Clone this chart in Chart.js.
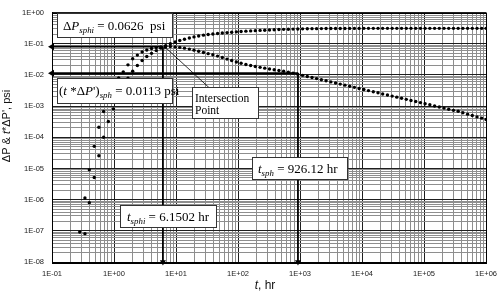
<!DOCTYPE html>
<html>
<head>
<meta charset="utf-8">
<script src="https://cdn.jsdelivr.net/npm/chart.js@4.4.1/dist/chart.umd.min.js"></script>
<style>
  html, body { margin: 0; padding: 0; background: #fff; }
  #wrap { width: 504px; height: 296px; position: relative; }
</style>
</head>
<body>
<div id="wrap"><canvas id="chart_pressureDerivative"></canvas></div>
<script>
// time, hr
const times = [0.28,0.34,0.40,0.48,0.57,0.68,0.81,0.98,1.19,1.41,1.68,2.0,2.38,2.84,3.38,4.03,4.8,5.7,6.8,8.1,
  9.7,11.5,13.7,16.4,19.5,23.2,27.7,33,39.3,46.8,55.8,66.5,79,94,112,134,160,190,227,270,
  322,383,457,544,648,772,920,1100,1310,1560,1850,2210,2630,3140,3740,4450,5300,6320,7530,8970,
  10700,12700,15200,18100,21500,25700,30600,36400,43400,51700,61600,73400,87400,104000,124000,148000,176000,210000,250000,298000,
  355000,423000,504000,600000,715000,852000,1000000];

// pressure derivative t*dP', psi
const derivative = [9.2e-8,1.13e-6,9.0e-6,5.1e-5,2.1e-4,6.7e-4,1.9e-3,4.2e-3,8.0e-3,0.0125,0.021,0.033,0.043,0.054,0.063,0.070,0.075,0.079,0.081,0.0815,
  0.079,0.076,0.072,0.067,0.062,0.057,0.052,0.048,0.044,0.040,0.036,0.032,0.029,0.026,0.0235,0.0215,0.0200,0.0186,0.0174,0.0164,
  0.0155,0.0146,0.0138,0.0130,0.0122,0.0114,0.0105,0.00966,0.00891,0.00822,0.00759,0.00700,0.00646,0.00596,0.00550,0.00507,0.00468,0.00432,0.00398,0.00367,
  0.00339,0.00313,0.00288,0.00266,0.00245,0.00226,0.00209,0.00193,0.00178,0.00164,0.00151,0.00140,0.00129,0.00119,0.00110,0.00101,0.00093,0.00086,0.00079,0.00073,
  0.00068,0.00061,0.00055,0.00050,0.00045,0.00041,0.00037];

// pressure drop dP, psi
const pressure = [null,8.1e-8,8.0e-7,5.1e-6,2.55e-5,1.0e-4,3.2e-4,8.1e-4,2.0e-3,4.2e-3,7.8e-3,0.013,0.020,0.029,0.039,0.049,0.060,0.072,0.086,0.099,
  0.113,0.126,0.139,0.152,0.165,0.177,0.188,0.197,0.205,0.213,0.220,0.227,0.233,0.240,0.246,0.252,0.257,0.262,0.267,0.271,
  0.276,0.280,0.284,0.288,0.291,0.294,0.297,0.299,0.301,0.303,0.304,0.305,0.306,0.307,0.308,0.308,0.308,0.309,0.309,0.309,
  0.31,0.31,0.31,0.31,0.31,0.31,0.31,0.31,0.31,0.31,0.31,0.31,0.31,0.31,0.31,0.31,0.31,0.31,0.31,0.31,
  0.31,0.31,0.31,0.31,0.31,0.31,0.31];

// marker lines: intersection and spherical flow reading
const arrowTimes = [6.1502, 926.12];
const arrowLevels = [0.08, 0.0113];

const xDecades = [-1,0,1,2,3,4,5,6];
const xTickLabels = ['1E-01','1E+00','1E+01','1E+02','1E+03','1E+04','1E+05','1E+06'];
const yDecades = [-8,-7,-6,-5,-4,-3,-2,-1,0];
const yTickLabels = ['1E-08','1E-07','1E-06','1E-05','1E-04','1E-03','1E-02','1E-01','1E+00'];

function toPoints(ys) {
  const out = [];
  ys.forEach((v, i) => { if (v !== null) out.push({x: times[i], y: v}); });
  return out;
}

function logTicks(decades) {
  return (scale) => {
    const t = [];
    decades.forEach((e, i) => {
      t.push({value: Math.pow(10, e), major: true});
      if (i < decades.length - 1) {
        for (let m = 2; m <= 9; m++) t.push({value: m * Math.pow(10, e), major: false});
      }
    });
    scale.ticks = t;
  };
}

function tickLabel(decades, labels) {
  return (value, index, ticks) => {
    if (!ticks[index].major) return '';
    return labels[decades.indexOf(Math.round(Math.log10(value)))];
  };
}

function arrowLine(a, b, tipRotation, width, tipSize) {
  return {
    type: 'line',
    data: [a, b],
    borderColor: '#000',
    borderWidth: width,
    pointStyle: 'triangle',
    pointRadius: [tipSize, 0],
    pointRotation: [tipRotation, 0],
    pointBackgroundColor: '#000',
    pointBorderColor: '#000',
    pointBorderWidth: 0,
    showLine: true,
    clip: false
  };
}

const gridColor = (c) => (c.tick && c.tick.major) ? '#1e1e1e' : '#8e8e8e';

// mixed-style text helper
function drawRich(ctx, x, y, parts, size, family) {
  let cx = x;
  parts.forEach(([txt, st]) => {
    const sub = st === 's';
    const fs = sub ? size * 0.68 : size;
    ctx.font = ((st === 'i' || sub) ? 'italic ' : '') + fs + 'px ' + family;
    ctx.fillText(txt, cx, sub ? y + size * 0.22 : y);
    cx += ctx.measureText(txt).width;
  });
  return cx - x;
}
function richWidth(ctx, parts, size, family) {
  let w = 0;
  parts.forEach(([txt, st]) => {
    const sub = st === 's';
    ctx.font = ((st === 'i' || sub) ? 'italic ' : '') + (sub ? size * 0.68 : size) + 'px ' + family;
    w += ctx.measureText(txt).width;
  });
  return w;
}

const SERIF = '"Liberation Serif", "Times New Roman", serif';
const SANS = '"Liberation Sans", Arial, sans-serif';

const boxes = [
  {x: 57, y: 13, w: 115, h: 24, lines: [{x: 63, y: 30, parts: [['Δ','n'],['P','i'],['sphi','s'],[' = 0.0626  psi','n']]}]},
  {x: 57, y: 78, w: 115, h: 25, lines: [{x: 59, y: 95, parts: [['(','n'],['t','i'],[' *','n'],['Δ','n'],['P','i'],["')",'n'],['sph','s'],[' = 0.0113 psi','n']]}]},
  {x: 192, y: 87, w: 66, h: 31, lines: [{x: 195, y: 102, parts: [['Intersection','n']]}, {x: 195, y: 114, parts: [['Point','n']]}], size: 11.5},
  {x: 120, y: 205, w: 96, h: 22, lines: [{x: 127, y: 221, parts: [['t','i'],['sphi','s'],[' = 6.1502 hr','n']]}]},
  {x: 252, y: 157, w: 95, h: 22, lines: [{x: 258, y: 173, parts: [['t','i'],['sph','s'],[' = 926.12 hr','n']]}]}
];

const chart_pressureDerivative = new Chart(document.getElementById('chart_pressureDerivative'), {
  type: 'scatter',
  data: {
    datasets: [
      {
        label: 'dP',
        data: toPoints(pressure),
        pointRadius: 1.7,
        pointBackgroundColor: '#000',
        pointBorderWidth: 0,
        showLine: false
      },
      {
        label: 'derivative',
        data: toPoints(derivative),
        pointRadius: 1.7,
        pointBackgroundColor: '#000',
        pointBorderWidth: 0,
        showLine: false
      },
      arrowLine({x: 0.1, y: arrowLevels[0]}, {x: arrowTimes[0], y: arrowLevels[0]}, 270, 1.8, 4),
      arrowLine({x: arrowTimes[0], y: 1e-8}, {x: arrowTimes[0], y: arrowLevels[0]}, 180, 1.8, 3.5),
      arrowLine({x: 0.1, y: arrowLevels[1]}, {x: arrowTimes[1], y: arrowLevels[1]}, 270, 1.8, 4),
      arrowLine({x: arrowTimes[1], y: 1e-8}, {x: arrowTimes[1], y: arrowLevels[1]}, 180, 1.8, 3.5),
      arrowLine({x: 6.7, y: 0.077}, {x: 35.6, y: 0.0036}, 312, 0.8, 2.5)
    ]
  },
  options: {
    animation: false,
    responsive: true,
    maintainAspectRatio: false,
    layout: { padding: { top: 10, right: 16, left: 0, bottom: 0 } },
    plugins: {
      legend: { display: false },
      tooltip: { enabled: false }
    },
    scales: {
      x: {
        type: 'logarithmic',
        min: 0.1,
        max: 1e6,
        afterBuildTicks: logTicks(xDecades),
        afterFit: (s) => { s.height = 34; },
        border: { color: '#000', width: 1 },
        grid: { color: gridColor, lineWidth: 1, drawTicks: false },
        ticks: {
          autoSkip: false,
          maxRotation: 0,
          padding: 7,
          color: '#222',
          font: { family: SANS, size: 7.5 },
          callback: tickLabel(xDecades, xTickLabels)
        }
      },
      y: {
        type: 'logarithmic',
        min: 1e-8,
        max: 1,
        afterBuildTicks: logTicks(yDecades),
        afterFit: (s) => { s.width = 52; },
        border: { color: '#000', width: 1 },
        grid: { color: gridColor, lineWidth: 1, drawTicks: false },
        ticks: {
          autoSkip: false,
          padding: 8,
          color: '#222',
          font: { family: SANS, size: 7.5 },
          callback: tickLabel(yDecades, yTickLabels)
        }
      }
    }
  },
  plugins: [{
    id: 'customPlugin',
    beforeDraw: (chart) => {
      const ctx = chart.ctx;
      ctx.save();
      ctx.fillStyle = 'white';
      ctx.fillRect(0, 0, chart.width, chart.height);
      ctx.restore();
    },
    afterDraw: (chart) => {
      const ctx = chart.ctx;
      const a = chart.chartArea;
      ctx.save();
      ctx.strokeStyle = '#000';
      ctx.lineWidth = 1;
      ctx.strokeRect(Math.round(a.left) + 0.5, Math.round(a.top) + 0.5, Math.round(a.right - a.left), Math.round(a.bottom - a.top));

      // text boxes
      boxes.forEach(b => {
        ctx.fillStyle = '#fff';
        ctx.fillRect(b.x, b.y, b.w, b.h);
        ctx.strokeStyle = '#333';
        ctx.lineWidth = 1;
        ctx.strokeRect(b.x + 0.5, b.y + 0.5, b.w, b.h);
        ctx.fillStyle = '#000';
        ctx.textBaseline = 'alphabetic';
        ctx.textAlign = 'left';
        b.lines.forEach(l => drawRich(ctx, l.x, l.y, l.parts, b.size || 13, SERIF));
      });

      // axis titles
      ctx.fillStyle = '#111';
      ctx.textBaseline = 'middle';
      const xt = [['t','i'],[', hr','n']];
      const xw = richWidth(ctx, xt, 12, SANS);
      drawRich(ctx, 265 - xw / 2, 286, xt, 12, SANS);

      const yt = [['ΔP & ','n'],['t','i'],["*ΔP', psi",'n']];
      const yw = richWidth(ctx, yt, 11, SANS);
      ctx.translate(7, 126);
      ctx.rotate(-Math.PI / 2);
      drawRich(ctx, -yw / 2, 0, yt, 11, SANS);
      ctx.restore();
    }
  }]
});
</script>
</body>
</html>
